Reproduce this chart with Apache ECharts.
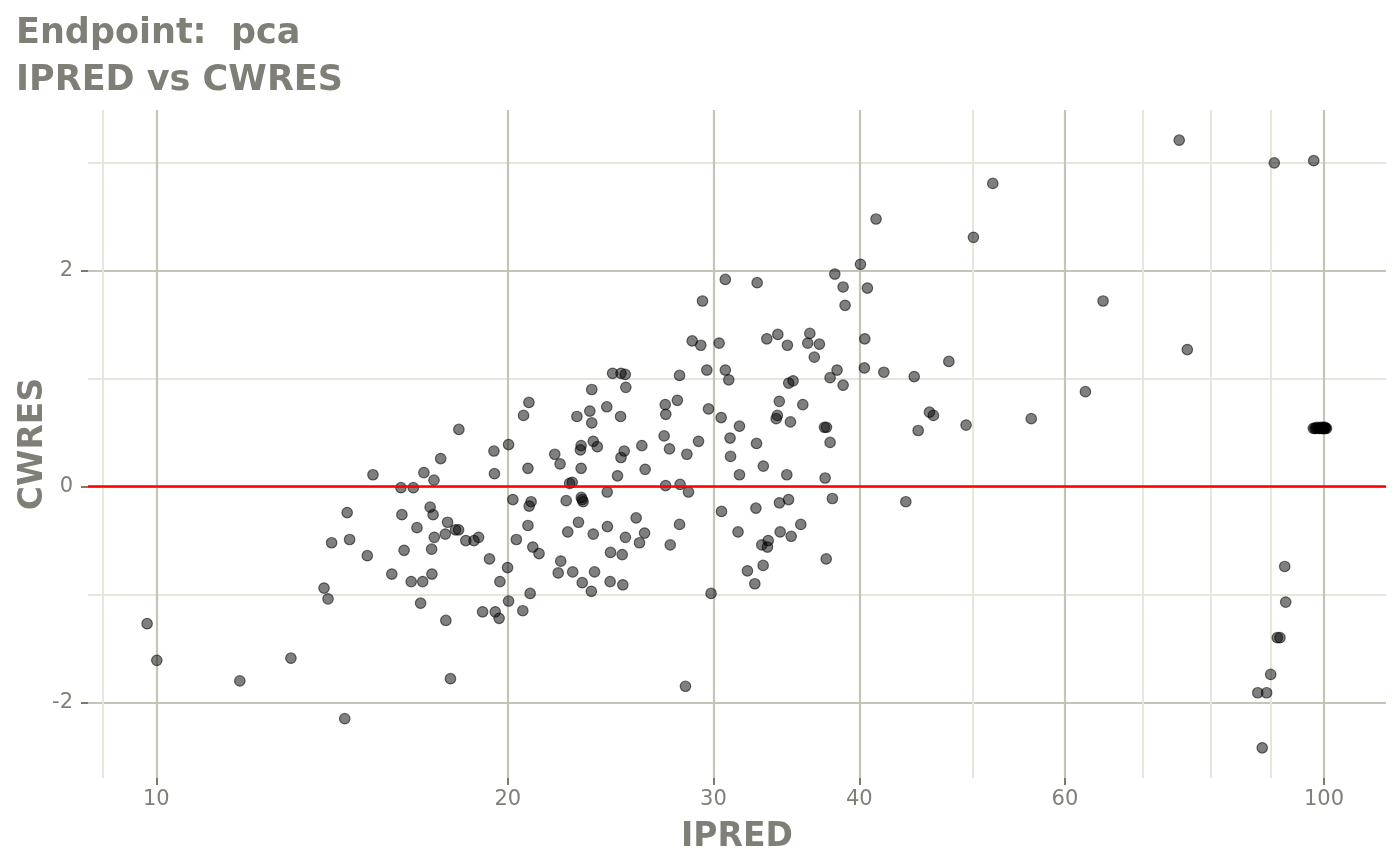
<!DOCTYPE html>
<html>
<head>
<meta charset="utf-8">
<title>IPRED vs CWRES</title>
<script src="https://cdn.jsdelivr.net/npm/echarts@6/dist/echarts.min.js"></script>
<style>
    html, body { margin: 0; padding: 0; background: #fff; }
    #main { width: 1400px; height: 865px; }
</style>
</head>
<body>
<div id="main"></div>
<script>
// data
var ipred = [
    15.33, 14.57, 14.13, 14.64, 15.16, 13.92, 14.03, 9.82, 10.01, 11.79, 13.04, 14.50,
    18.16, 20.03, 19.46, 17.52, 16.95, 17.29, 19.48, 20.81, 21.94, 22.17, 16.20, 16.60,
    22.59, 20.20, 20.94, 20.86, 22.44, 17.16, 16.23, 17.26, 16.72, 17.76, 18.04, 18.15,
    17.68, 17.30, 18.41, 18.71, 18.88, 20.81, 22.51, 20.34, 21.01, 21.27, 16.30, 17.21,
    19.29, 19.99, 22.20, 22.09, 15.91, 17.22, 16.53, 16.91, 19.69, 20.90, 20.03, 16.84,
    17.70, 19.03, 19.51, 19.66, 20.60, 17.86,
    30.71, 29.36, 28.77, 29.26, 30.34, 29.61, 30.71, 30.92, 28.06, 24.59, 25.00, 25.21,
    25.24, 23.60, 20.85, 20.63, 22.92, 23.51, 23.60, 24.31, 24.98, 27.28, 27.31, 27.94,
    29.71, 30.46, 31.58, 23.11, 23.08, 23.67, 23.86, 23.11, 22.71, 25.16, 25.00, 24.83,
    26.05, 26.22, 27.22, 27.51, 28.47, 29.13, 31.00, 31.03, 31.58, 24.33, 27.30, 28.09,
    28.56, 23.12, 23.16, 23.20, 30.48, 31.49, 22.99, 23.67, 24.34, 25.76, 26.19, 25.22,
    25.93, 28.06, 27.55, 24.49, 25.06, 22.73, 23.73, 23.16, 24.47, 25.09, 23.58, 29.86,
    28.39,
    40.09, 38.11, 32.70, 38.74, 40.64, 38.89, 33.33, 34.06, 34.71, 36.28, 36.13, 36.97,
    36.60, 40.43, 38.28, 37.76, 38.74, 40.40, 41.98, 44.57, 34.80, 35.10, 34.16, 35.78,
    34.03, 33.95, 34.92, 37.34, 37.49, 32.66, 37.76, 44.92, 45.93, 46.29, 33.10, 34.67,
    37.39, 37.93, 43.84, 34.17, 34.79, 32.62, 34.22, 35.64, 34.97, 33.00, 33.42, 33.37,
    37.47, 33.09, 32.08, 32.55,
    52.04, 41.34, 50.09, 64.68, 47.72, 49.37, 56.14, 62.47, 75.16, 90.66, 97.99, 76.37,
    92.54, 92.72, 91.20, 91.68, 90.02, 87.75, 89.30, 88.53,
    97.9, 98.2, 98.4, 98.6, 98.9, 99.1, 99.3, 99.5, 99.6, 99.7, 99.8, 99.9,
    100.0, 100.1, 100.2, 100.3, 100.5
];
var cwres = [
    0.11, -0.24, -0.52, -0.49, -0.64, -0.94, -1.04, -1.27, -1.61, -1.80, -1.59, -2.15,
    0.53, 0.39, 0.33, 0.26, 0.13, 0.06, 0.12, 0.17, 0.30, 0.21, -0.01, -0.01,
    0.03, -0.12, -0.14, -0.18, -0.13, -0.19, -0.26, -0.26, -0.38, -0.33, -0.40, -0.40,
    -0.44, -0.47, -0.50, -0.50, -0.47, -0.36, -0.42, -0.49, -0.56, -0.62, -0.59, -0.58,
    -0.67, -0.75, -0.69, -0.80, -0.81, -0.81, -0.88, -0.88, -0.88, -0.99, -1.06, -1.08,
    -1.24, -1.16, -1.16, -1.22, -1.15, -1.78,
    1.92, 1.72, 1.35, 1.31, 1.33, 1.08, 1.08, 0.99, 1.03, 1.05, 1.05, 1.04,
    0.92, 0.90, 0.78, 0.66, 0.65, 0.70, 0.59, 0.74, 0.65, 0.76, 0.67, 0.80,
    0.72, 0.64, 0.56, 0.38, 0.34, 0.42, 0.37, 0.17, 0.04, 0.33, 0.27, 0.10,
    0.38, 0.16, 0.47, 0.35, 0.30, 0.42, 0.45, 0.28, 0.11, -0.05, 0.01, 0.02,
    -0.05, -0.10, -0.12, -0.14, -0.23, -0.42, -0.33, -0.44, -0.37, -0.29, -0.43, -0.47,
    -0.52, -0.35, -0.54, -0.61, -0.63, -0.79, -0.79, -0.89, -0.88, -0.91, -0.97, -0.99,
    -1.85,
    2.06, 1.97, 1.89, 1.85, 1.84, 1.68, 1.37, 1.41, 1.31, 1.42, 1.33, 1.32,
    1.20, 1.37, 1.08, 1.01, 0.94, 1.10, 1.06, 1.02, 0.96, 0.98, 0.79, 0.76,
    0.66, 0.63, 0.60, 0.55, 0.55, 0.40, 0.41, 0.52, 0.69, 0.66, 0.19, 0.11,
    0.08, -0.11, -0.14, -0.15, -0.12, -0.20, -0.42, -0.35, -0.46, -0.54, -0.50, -0.56,
    -0.67, -0.73, -0.78, -0.90,
    2.81, 2.48, 2.31, 1.72, 1.16, 0.57, 0.63, 0.88, 3.21, 3.00, 3.02, 1.27,
    -0.74, -1.07, -1.40, -1.40, -1.74, -1.91, -1.91, -2.42,
    0.54, 0.54, 0.54, 0.55, 0.54, 0.54, 0.55, 0.54, 0.54, 0.54, 0.55, 0.54,
    0.54, 0.54, 0.55, 0.54, 0.54
];

var xMajorTicks = [10, 20, 30, 40, 60, 100];
var xMinorTicks = [9, 50, 70, 80, 90];
var yMajorTicks = [-2, 0, 2];
var yMinorTicks = [-1, 1, 3];

var textColor = '#7f7f77';
var fontFamily = 'DejaVu Sans';

var myChart = echarts.init(document.getElementById('main'));

var points = ipred.map(function (v, i) {
    return [v, cwres[i]];
});

var option = {
    animation: false,
    backgroundColor: '#ffffff',
    title: {
        text: 'Endpoint:  pca\nIPRED vs CWRES',
        left: 16,
        top: 10,
        padding: 0,
        textStyle: {
            fontFamily: fontFamily,
            fontSize: 35,
            fontWeight: 'bold',
            color: textColor,
            lineHeight: 47
        }
    },
    grid: {
        left: 88,
        right: 14,
        top: 110,
        bottom: 87,
        containLabel: false
    },
    xAxis: [
        {
            type: 'log',
            logBase: 10,
            min: 8.74,
            max: 113,
            name: 'IPRED',
            nameLocation: 'middle',
            nameGap: 43,
            nameTextStyle: {
                fontFamily: fontFamily,
                fontSize: 33,
                fontWeight: 'bold',
                color: textColor
            },
            axisLine: { show: false, onZero: false },
            axisTick: {
                show: true,
                length: 7,
                customValues: xMajorTicks,
                lineStyle: { color: '#7a7a74', width: 2 }
            },
            axisLabel: {
                customValues: xMajorTicks,
                margin: 11,
                fontFamily: fontFamily,
                fontSize: 21,
                color: '#808078'
            },
            splitLine: {
                show: true,
                lineStyle: { color: '#c4c4b8', width: 2.2 }
            }
        },
        {
            // minor grid lines
            type: 'log',
            logBase: 10,
            min: 8.74,
            max: 113,
            position: 'bottom',
            axisLine: { show: false, onZero: false },
            axisTick: { show: false, customValues: xMinorTicks },
            axisLabel: { show: false },
            splitLine: {
                show: true,
                lineStyle: { color: '#e6e6dc', width: 2 }
            }
        }
    ],
    yAxis: [
        {
            type: 'value',
            min: -2.7,
            max: 3.49,
            name: 'CWRES',
            nameLocation: 'middle',
            nameRotate: 90,
            nameGap: 38,
            nameMoveOverlap: false,
            nameTextStyle: {
                fontFamily: fontFamily,
                fontSize: 33,
                fontWeight: 'bold',
                color: textColor
            },
            axisLine: { show: false },
            axisTick: {
                show: true,
                length: 7,
                customValues: yMajorTicks,
                lineStyle: { color: '#7a7a74', width: 2 }
            },
            axisLabel: {
                customValues: yMajorTicks,
                margin: 15,
                fontFamily: fontFamily,
                fontSize: 21,
                color: '#808078'
            },
            splitLine: {
                show: true,
                lineStyle: { color: '#c4c4b8', width: 2.2 }
            }
        },
        {
            type: 'value',
            min: -2.7,
            max: 3.49,
            position: 'left',
            axisLine: { show: false },
            axisTick: { show: false, customValues: yMinorTicks },
            axisLabel: { show: false },
            splitLine: {
                show: true,
                lineStyle: { color: '#e6e6dc', width: 2 }
            }
        }
    ],
    series: [
        {
            type: 'scatter',
            xAxisIndex: 0,
            yAxisIndex: 0,
            data: points,
            symbol: 'circle',
            symbolSize: 10.5,
            itemStyle: {
                color: 'rgba(0,0,0,0.5)',
                borderColor: 'rgba(0,0,0,0.55)',
                borderWidth: 1.2,
                opacity: 1
            },
            emphasis: { disabled: true },
            markLine: {
                silent: true,
                symbol: 'none',
                label: { show: false },
                lineStyle: { color: '#ff0000', width: 2.5, type: 'solid' },
                data: [{ yAxis: 0 }]
            }
        }
    ]
};
myChart.setOption(option);
</script>
</body>
</html>
